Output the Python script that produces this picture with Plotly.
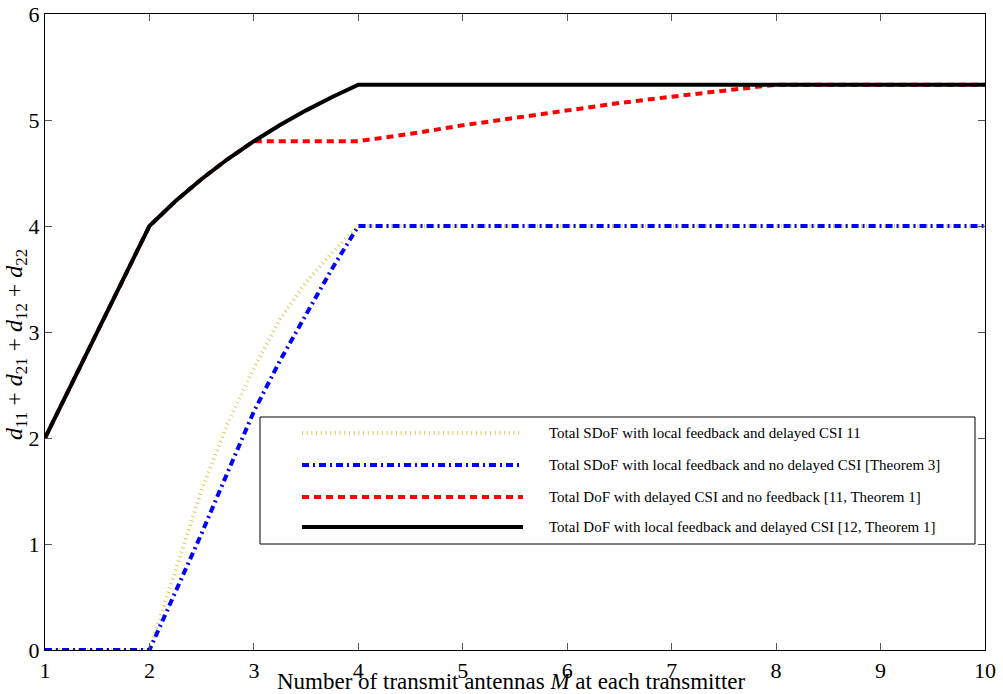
import plotly.graph_objects as go

# ---- data ----
m_black = [1, 1.5, 2, 2.25, 2.5, 2.75, 3, 3.25, 3.5, 3.75, 4, 5, 6, 7, 8, 9, 10]
dof_local_delayed = [2, 3, 4, 4.235, 4.444, 4.632, 4.8, 4.952, 5.091, 5.217, 5.333,
                     5.333, 5.333, 5.333, 5.333, 5.333, 5.333]

m_red = [1, 1.5, 2, 2.25, 2.5, 2.75, 3, 3.25, 3.5, 3.75, 4, 4.5, 5, 5.5, 6, 6.5, 7, 7.5, 8, 9, 10]
dof_delayed_nofb = [2, 3, 4, 4.235, 4.444, 4.632, 4.8, 4.8, 4.8, 4.8, 4.8, 4.87, 4.95, 5.02,
                    5.09, 5.16, 5.22, 5.28, 5.333, 5.333, 5.333]

m_sdof = [1, 2, 2.25, 2.5, 2.75, 3, 3.25, 3.5, 3.75, 4, 10]
sdof_local_delayed = [0, 0, 0.75, 1.51, 2.14, 2.66, 3.12, 3.47, 3.75, 4, 4]
sdof_local_nodelayed = [0, 0, 0.55, 1.10, 1.68, 2.25, 2.73, 3.17, 3.60, 4, 4]

x_ticks = [1, 2, 3, 4, 5, 6, 7, 8, 9, 10]
y_ticks = [0, 1, 2, 3, 4, 5, 6]

legend_names = [
    "Total SDoF with local feedback and delayed CSI 11",
    "Total SDoF with local feedback and no delayed CSI [Theorem 3]",
    "Total DoF with delayed CSI and no feedback [11, Theorem 1]",
    "Total DoF with local feedback and delayed CSI [12, Theorem 1]",
]

# ---- styles ----
YEL = "#d8cd5e"
BLU = "#0000ff"
RED = "#ff0000"
BLK = "#000000"
styles = [
    dict(color=YEL, width=4, dash="1px,3.7px"),
    dict(color=BLU, width=4, dash="7px,4px,2px,4px"),
    dict(color=RED, width=4, dash="7px,5px"),
    dict(color=BLK, width=4, dash="solid"),
]
FONT = "Liberation Serif, Times New Roman, serif"

fig = go.Figure()
series = [
    (m_sdof, sdof_local_delayed),
    (m_sdof, sdof_local_nodelayed),
    (m_red, dof_delayed_nofb),
    (m_black, dof_local_delayed),
]
for (xs, ys), name, st in zip(series, legend_names, styles):
    fig.add_trace(go.Scatter(x=xs, y=ys, mode="lines", name=name, line=st,
                             showlegend=False))

axis_common = dict(
    showgrid=False, zeroline=False, showline=True, linecolor="black", linewidth=1.3,
    mirror="ticks", ticks="inside", ticklen=7, tickcolor="#555", tickwidth=1,
    tickfont=dict(family=FONT, size=22, color="black"), automargin=False,
)
fig.update_xaxes(range=[1, 10], tickvals=x_ticks, ticktext=[str(v) for v in x_ticks],
                 **axis_common)
fig.update_yaxes(range=[0, 6], tickvals=y_ticks, ticktext=[str(v) for v in y_ticks],
                 **axis_common)

# ---- custom legend (box, line samples, text) ----
def px_x(p):
    return (p - 45) / 940.0

def px_y(p):
    return (650 - p) / 636.0

shapes = [dict(type="rect", xref="paper", yref="paper",
               x0=px_x(260), x1=px_x(975), y0=px_y(544), y1=px_y(417),
               line=dict(color="black", width=1), fillcolor="white", layer="above")]
annotations = []
rows = [433, 465, 497, 527]
for row, name, st in zip(rows, legend_names, styles):
    shapes.append(dict(type="line", xref="paper", yref="paper",
                       x0=px_x(302), x1=px_x(523), y0=px_y(row), y1=px_y(row),
                       line=st, layer="above"))
    annotations.append(dict(xref="paper", yref="paper", x=px_x(547), y=px_y(row),
                            xanchor="left", yanchor="middle", showarrow=False,
                            text=name, font=dict(family=FONT, size=15, color="black")))

# axis titles
annotations.append(dict(xref="paper", yref="paper", x=px_x(511), y=0, yshift=-31,
                        xanchor="center", yanchor="middle", showarrow=False,
                        text="Number of transmit antennas <i>M</i> at each transmitter",
                        font=dict(family=FONT, size=23, color="black")))
annotations.append(dict(xref="paper", yref="paper", x=px_x(16), y=px_y(345),
                        xanchor="center", yanchor="middle", showarrow=False, textangle=-90,
                        text="<i>d</i><sub>11</sub> + <i>d</i><sub>21</sub> + "
                             "<i>d</i><sub>12</sub> + <i>d</i><sub>22</sub>",
                        font=dict(family=FONT, size=24, color="black")))

fig.update_layout(
    width=1003, height=694,
    margin=dict(l=45, r=18, t=14, b=44, autoexpand=False),
    paper_bgcolor="white", plot_bgcolor="white",
    shapes=shapes, annotations=annotations,
    font=dict(family=FONT, color="black"),
)

fig.write_html("out.html", config={"displayModeBar": False},
               post_script="document.body.style.margin='0';document.body.style.overflow='hidden';")
